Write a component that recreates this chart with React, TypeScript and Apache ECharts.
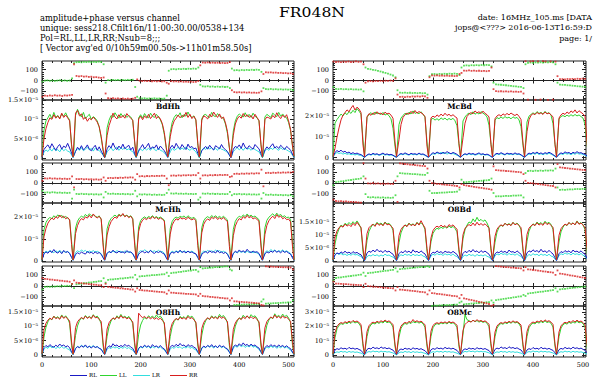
import React, { useEffect, useRef } from "react";
import * as echarts from "echarts";

// ---------- channel grid ----------
const bandStarts = [0, 64, 128, 192, 256, 320, 384, 448];
const ampOffsets = [0, 4, 8, 12, 16, 20, 24, 28, 32, 36, 40, 44, 48, 52, 56, 60, 63];
const phaseOffsets = [1, 6, 11, 16, 21, 26, 31, 36, 41, 46, 51, 56, 61];
const ampChannels = bandStarts.flatMap((s) => ampOffsets.map((o) => s + o));
const phaseChannels = bandStarts.flatMap((s) => phaseOffsets.map((o) => s + o));
const xTickLabels = [0, 100, 200, 300, 400, 500];
const phaseTickLabels = [-100, 0, 100];
const polNames = ["RL", "LL", "LR", "RR"];

// ---------- phase (degrees) ----------
const phRR_BdHh = [
  -150, -139, -142, -138, -141, -136, -140, -138, -143, -137, -139, -136, -132,
  150, 42, 39, 41, 36, 38, 33, 35, 30, 31, 27, 24, 28,
  -120, -164, -167, -163, -168, -165, -169, -166, -170, -167, -171, -168, -160,
  10, -2, -5, -3, -6, -4, -7, -5, -8, -6, -9, -7, -20,
  -30, -6, -9, -7, -11, -8, -12, -10, -13, -11, -14, -12, -5,
  140, 166, 164, 167, 163, 165, 162, 164, 161, 163, 160, 162, 170,
  -90, -107, -110, -108, -111, -109, -112, -110, -113, -111, -114, -112, -100,
  60, 76, 74, 75, 72, 73, 70, 71, 68, 69, 66, 67, 62,
];
const phLL_BdHh = [
  -10, -2, 1, -3, 0, -4, -1, 2, -2, 1, -3, 0, 20,
  160, 169, 171, 168, 172, 170, 173, 169, 172, 170, 174, 171, 150,
  -20, 4, 2, 5, 3, 6, 2, 5, 3, 6, 4, 7, -60,
  -150, -164, -166, -163, -167, -165, -168, -164, -167, -166, -169, -167, -140,
  90, 104, 106, 103, 107, 105, 108, 106, 109, 107, 110, 108, 120,
  -40, -54, -56, -53, -57, -55, -58, -56, -59, -57, -60, -58, -70,
  110, 94, 96, 93, 97, 95, 98, 96, 99, 97, 100, 98, 80,
  -70, -79, -81, -78, -82, -80, -83, -81, -84, -82, -85, -83, -90,
];
const phRR_McBd = [
  175, 171, 173, 170, 174, 172, 175, 171, 173, 176, 172, 174, 150,
  -20, -7, -5, -8, -4, -6, -3, -5, -2, -4, -1, -3, 20,
  -130, -152, -150, -153, -149, -151, -147, -149, -146, -148, -144, -146, -160,
  30, 47, 45, 48, 44, 46, 43, 45, 42, 44, 41, 43, 60,
  70, 92, 90, 93, 89, 91, 88, 90, 87, 89, 86, 88, 120,
  -80, -98, -101, -99, -102, -100, -103, -101, -104, -102, -105, -103, -120,
  178, -177, 176, 179, -178, 177, -176, 178, 175, -179, 176, -177, 174,
  40, 12, 13, 11, 14, 12, 15, 13, 16, 14, 17, 15, 25,
];
const phLL_McBd = [
  -60, -78, -80, -77, -81, -79, -82, -80, -83, -81, -84, -82, -100,
  120, 108, 104, 99, 95, 89, 83, 76, 70, 63, 55, 46, 30,
  -90, -112, -114, -111, -115, -113, -116, -114, -117, -115, -118, -116, -130,
  40, 58, 60, 57, 61, 59, 62, 60, 63, 61, 64, 62, 50,
  120, 138, 140, 137, 141, 139, 142, 140, 143, 141, 144, 142, 130,
  -20, -35, -38, -39, -42, -44, -47, -49, -53, -54, -58, -59, -70,
  150, 164, 166, 163, 167, 165, 168, 166, 169, 167, 170, 168, 150,
  -20, -38, -40, -41, -44, -45, -48, -50, -53, -54, -57, -58, -60,
];
const phRR_McHh = [
  20, 42, 40, 43, 39, 41, 38, 40, 37, 39, 36, 38, 60,
  -40, 36, 34, 37, 33, 35, 32, 34, 31, 33, 30, 32, 50,
  20, 44, 46, 43, 47, 45, 48, 46, 50, 48, 51, 49, 30,
  80, 60, 62, 59, 63, 61, 64, 62, 65, 63, 66, 64, 40,
  -20, 66, 68, 65, 69, 67, 70, 68, 71, 69, 72, 70, 90,
  40, 68, 70, 67, 71, 69, 72, 70, 73, 71, 74, 72, 55,
  60, 82, 84, 81, 85, 83, 86, 84, 87, 85, 88, 86, 120,
  -30, 90, 92, 89, 93, 91, 94, 92, 95, 93, 96, 94, 100,
];
const phLL_McHh = [
  -70, -86, -84, -87, -83, -85, -88, -86, -89, -87, -90, -88, -140,
  -60, -98, -100, -97, -101, -99, -102, -100, -103, -101, -104, -102, -130,
  -80, -96, -98, -95, -99, -97, -100, -98, -101, -99, -102, -100, -70,
  -120, -102, -104, -101, -105, -103, -106, -104, -107, -105, -108, -106, -90,
  -60, -94, -96, -93, -97, -95, -98, -96, -99, -97, -100, -98, -150,
  -130, -95, -97, -94, -98, -96, -99, -97, -100, -98, -101, -99, -80,
  -110, -99, -101, -98, -102, -100, -103, -101, -104, -102, -105, -103, -140,
  -90, -105, -107, -104, -108, -106, -109, -107, -110, -108, -111, -109, -120,
];
const phRR_O8Bd = [
  -150, -162, -165, -164, -167, -166, -169, -170, -172, -173, -175, -176, 178,
  40, -3, -5, -2, -6, -4, -7, -5, -8, -6, -9, -7, 20,
  -170, 176, 174, 171, 169, 166, 164, 161, 159, 156, 154, 151, 130,
  20, -2, -4, -7, -9, -12, -15, -17, -19, -22, -25, -27, -40,
  -10, -20, -23, -27, -30, -34, -38, -41, -44, -48, -51, -55, -60,
  150, 116, 114, 112, 111, 108, 107, 104, 103, 100, 99, 96, 80,
  20, 2, -1, -3, -7, -9, -13, -15, -19, -21, -25, -27, -40,
  170, 140, 138, 135, 133, 130, 128, 125, 123, 120, 118, 115, 100,
];
const phLL_O8Bd = [
  -20, 8, 11, 15, 17, 21, 25, 27, 31, 35, 37, 41, 60,
  -100, -128, -130, -127, -131, -129, -132, -130, -133, -131, -134, -132, -110,
  60, 88, 87, 85, 84, 82, 80, 79, 78, 76, 74, 73, 90,
  -70, -92, -90, -90, -88, -86, -86, -84, -82, -82, -80, -78, -60,
  30, 6, 8, 11, 12, 15, 16, 19, 20, 23, 24, 27, 40,
  -90, -121, -119, -120, -118, -116, -117, -115, -113, -114, -112, -111, -130,
  90, 108, 110, 107, 111, 109, 112, 110, 113, 111, 114, 112, 130,
  -40, -62, -60, -61, -59, -57, -58, -56, -54, -55, -53, -52, -30,
];
const phRR_O8Hh = [
  70, 64, 62, 58, 57, 53, 52, 48, 47, 43, 42, 38, 20,
  50, 30, 27, 26, 22, 21, 17, 16, 12, 11, 7, 6, -10,
  20, -8, -11, -12, -16, -17, -21, -22, -26, -27, -31, -32, -50,
  -20, -36, -38, -41, -42, -45, -46, -49, -50, -53, -54, -57, -70,
  -40, -60, -61, -64, -65, -67, -68, -70, -71, -73, -74, -76, -90,
  -70, -90, -93, -94, -98, -99, -102, -103, -107, -108, -111, -112, -130,
  -110, -138, -139, -142, -143, -146, -146, -149, -150, -153, -154, -156, -170,
  -175, 177, 175, 175, 173, 172, 172, 170, 169, 169, 167, 166, 150,
];
const phLL_O8Hh = [
  -30, -8, -6, -7, -4, -5, -2, -3, 0, -1, 2, 1, 20,
  -20, 15, 19, 20, 25, 26, 31, 32, 37, 38, 43, 44, 70,
  30, 56, 59, 60, 63, 64, 68, 68, 72, 73, 77, 77, 100,
  60, 86, 89, 89, 93, 94, 97, 98, 101, 102, 105, 106, 120,
  90, 116, 120, 121, 126, 127, 132, 133, 138, 139, 144, 145, 130,
  170, 158, 161, 162, 165, 166, 169, 170, 172, 173, 176, 177, 150,
  140, -171, -170, -169, -168, -167, -166, -166, -164, -164, -162, -161, -140,
  -120, -159, -157, -157, -155, -154, -153, -152, -150, -150, -148, -147, -130,
];
const phRR_O8Mc = [
  40, 22, 21, 19, 18, 16, 15, 13, 12, 10, 9, 7, -10,
  20, -2, -3, -6, -7, -10, -11, -14, -15, -18, -19, -22, -40,
  -10, -32, -34, -37, -39, -42, -44, -47, -49, -52, -54, -57, -75,
  -40, -64, -66, -70, -72, -76, -78, -82, -84, -88, -90, -94, -110,
  -80, -112, -116, -122, -126, -132, -136, -142, -146, -152, -156, -162, -178,
  -170, 178, 177, 174, 173, 170, 169, 166, 165, 162, 161, 158, 140,
  170, 150, 148, 144, 142, 138, 136, 132, 130, 126, 124, 120, 100,
  140, 112, 109, 104, 101, 96, 93, 88, 85, 80, 77, 72, 60,
];
const phLL_O8Mc = [
  50, 72, 76, 78, 82, 84, 88, 90, 94, 96, 100, 102, 120,
  90, 115, 119, 121, 125, 127, 131, 133, 137, 139, 143, 145, 160,
  130, 152, 155, 156, 159, 160, 163, 165, 168, 169, 172, 173, 178,
  170, -178, -176, -176, -174, -174, -172, -172, -170, -170, -168, -168, -150,
  -140, -165, -162, -161, -158, -157, -154, -153, -150, -149, -146, -145, -130,
  -150, -128, -123, -121, -116, -114, -109, -107, -102, -100, -95, -93, -80,
  -90, -68, -64, -62, -58, -56, -52, -50, -46, -44, -40, -38, -20,
  -50, -30, -27, -25, -22, -20, -17, -15, -12, -10, -7, -5, 10,
];

// ---------- amplitude (units of 1e-6) ----------
const ampRR_BdHh = [
  0.3, 5.0, 7.6, 9.2, 10.4, 10.0, 11.2, 10.3, 10.9, 10.1, 11.6, 10.5, 11.1, 10.4, 9.6, 3.5, 0.3,
  0.4, 11.6, 12.3, 10.9, 11.4, 10.0, 10.6, 9.5, 10.3, 9.9, 10.6, 10.0, 9.3, 8.1, 5.6, 2.1, 0.2,
  0.3, 5.8, 8.4, 9.9, 11.6, 10.6, 10.1, 11.2, 10.4, 11.0, 10.3, 11.5, 10.8, 10.3, 9.8, 4.2, 0.4,
  0.5, 10.1, 10.8, 9.9, 10.9, 10.3, 11.3, 10.2, 10.9, 11.6, 10.2, 10.8, 10.1, 8.9, 6.6, 2.8, 0.3,
  0.2, 5.5, 8.1, 9.6, 10.3, 11.1, 10.4, 11.0, 10.7, 11.8, 10.5, 11.3, 10.2, 10.8, 9.9, 3.8, 0.3,
  0.4, 9.8, 10.9, 10.6, 10.1, 11.3, 10.6, 11.9, 11.1, 10.5, 11.4, 10.2, 10.6, 9.1, 6.9, 2.7, 0.2,
  0.3, 5.9, 8.8, 10.1, 10.8, 10.3, 11.5, 10.7, 11.2, 10.5, 11.0, 10.1, 11.3, 10.5, 9.7, 3.6, 0.3,
  0.4, 9.9, 10.6, 10.4, 10.1, 11.0, 10.4, 11.7, 10.8, 10.2, 11.1, 10.5, 11.2, 9.6, 7.4, 3.1, 0.5,
];
const ampLL_BdHh = [
  0.5, 7.2, 9.6, 10.4, 11.3, 10.2, 11.8, 10.5, 11.0, 10.3, 11.4, 10.8, 11.7, 10.6, 9.9, 3.0, 0.3,
  0.5, 11.0, 12.6, 11.4, 10.6, 11.8, 10.2, 10.8, 11.3, 10.0, 10.7, 10.3, 9.6, 8.0, 5.2, 1.8, 0.2,
  0.4, 7.8, 9.8, 11.0, 10.5, 11.7, 10.9, 10.3, 11.5, 10.7, 11.2, 10.5, 11.0, 10.6, 9.7, 3.9, 0.3,
  0.6, 10.4, 11.2, 10.3, 11.5, 10.7, 10.4, 11.6, 10.8, 10.5, 11.3, 10.6, 9.9, 8.6, 6.1, 2.4, 0.4,
  0.3, 6.6, 9.2, 10.5, 11.2, 10.8, 11.7, 10.4, 11.3, 10.8, 11.9, 10.9, 10.5, 10.9, 9.8, 3.3, 0.2,
  0.5, 10.2, 11.1, 11.3, 10.7, 10.5, 11.8, 10.9, 10.7, 11.5, 10.8, 10.6, 10.2, 8.8, 6.4, 2.5, 0.3,
  0.4, 7.0, 9.6, 10.8, 11.4, 10.9, 10.6, 11.7, 10.7, 11.3, 10.5, 11.6, 10.8, 10.4, 9.6, 3.4, 0.2,
  0.5, 10.6, 11.3, 10.9, 10.5, 11.6, 11.1, 10.7, 11.8, 10.8, 11.4, 10.7, 10.4, 9.2, 7.1, 3.0, 0.4,
];
const ampRL_BdHh = [
  0.3, 2.2, 2.9, 3.4, 2.5, 3.7, 2.8, 2.0, 3.0, 3.5, 2.3, 3.1, 2.7, 3.8, 2.6, 1.3, 0.2,
  0.2, 1.7, 2.8, 2.2, 3.2, 2.1, 2.6, 3.4, 2.3, 1.9, 2.7, 3.3, 2.0, 2.9, 1.8, 0.9, 0.1,
  0.3, 2.4, 3.2, 2.6, 3.9, 2.7, 2.2, 3.1, 2.5, 3.6, 2.4, 2.9, 3.3, 2.1, 2.8, 1.1, 0.2,
  0.2, 2.0, 2.7, 3.5, 2.4, 3.0, 3.8, 2.3, 2.9, 2.6, 3.4, 2.2, 3.1, 2.5, 1.9, 1.0, 0.2,
  0.3, 2.6, 3.3, 2.5, 3.8, 2.9, 2.4, 3.5, 2.8, 2.2, 3.6, 2.7, 3.0, 2.4, 2.6, 1.2, 0.2,
  0.2, 1.9, 2.5, 3.0, 2.3, 3.3, 2.6, 2.1, 3.2, 2.8, 2.4, 3.5, 2.6, 2.2, 1.7, 0.8, 0.1,
  0.3, 2.3, 3.0, 2.7, 3.4, 2.5, 3.9, 2.8, 2.4, 3.2, 2.7, 2.3, 3.5, 2.9, 2.4, 1.1, 0.2,
  0.2, 2.1, 2.9, 2.4, 3.1, 3.7, 2.6, 3.0, 2.5, 3.3, 2.8, 2.2, 3.0, 2.6, 2.0, 1.0, 0.2,
];
const ampLR_BdHh = [
  0.2, 1.5, 2.1, 1.7, 2.4, 1.8, 2.6, 1.9, 2.2, 1.6, 2.5, 1.9, 2.3, 1.8, 1.6, 0.8, 0.1,
  0.2, 1.8, 2.4, 2.0, 2.7, 1.9, 2.3, 2.8, 2.1, 2.5, 1.8, 2.6, 2.2, 1.9, 1.4, 0.7, 0.1,
  0.2, 1.6, 2.2, 2.7, 1.9, 2.4, 2.9, 2.0, 2.6, 2.2, 2.8, 2.1, 2.4, 1.9, 1.7, 0.8, 0.1,
  0.2, 1.7, 2.3, 1.9, 2.6, 2.1, 2.5, 2.0, 2.7, 2.2, 1.9, 2.6, 2.0, 1.8, 1.4, 0.7, 0.1,
  0.2, 1.6, 2.5, 2.0, 2.3, 2.8, 2.1, 2.6, 2.2, 2.9, 2.3, 2.0, 2.5, 2.1, 1.6, 0.8, 0.1,
  0.2, 1.9, 2.6, 2.2, 2.9, 2.3, 2.7, 2.1, 2.5, 2.0, 2.8, 2.3, 2.1, 1.8, 1.5, 0.7, 0.1,
  0.2, 1.7, 2.2, 2.8, 2.1, 2.6, 2.0, 2.7, 2.3, 2.5, 2.0, 2.6, 2.2, 1.9, 1.6, 0.8, 0.1,
  0.2, 1.8, 2.4, 2.0, 2.6, 2.2, 2.9, 2.3, 2.0, 2.7, 2.2, 2.5, 2.1, 1.8, 1.5, 0.7, 0.1,
];

const ampRR_McBd = [
  0.5, 4.5, 9.8, 14.2, 18.0, 20.3, 21.5, 22.8, 21.9, 23.6, 24.9, 22.7, 24.1, 23.2, 21.5, 6.0, 0.5,
  0.6, 19.5, 21.0, 20.2, 21.4, 20.6, 21.9, 20.8, 21.3, 20.4, 21.7, 20.9, 21.2, 20.3, 18.8, 7.5, 0.6,
  0.5, 8.6, 15.8, 19.2, 20.5, 21.3, 20.7, 22.1, 21.0, 22.5, 21.2, 22.0, 21.4, 20.8, 19.6, 5.5, 0.4,
  0.6, 19.0, 19.8, 19.2, 20.4, 19.6, 20.8, 19.9, 21.2, 20.1, 20.7, 19.8, 20.5, 19.6, 18.9, 6.8, 0.5,
  0.5, 9.5, 16.4, 19.6, 20.8, 21.5, 20.9, 22.3, 21.4, 21.9, 21.0, 22.2, 21.1, 20.5, 19.4, 6.2, 0.4,
  0.6, 18.6, 19.9, 20.5, 19.8, 20.9, 20.2, 21.1, 20.4, 21.3, 20.6, 20.1, 20.8, 19.7, 18.2, 7.0, 0.5,
  0.5, 12.4, 18.1, 20.2, 21.0, 20.5, 21.6, 20.8, 21.4, 20.6, 21.8, 20.9, 21.3, 20.4, 19.5, 6.5, 0.4,
  0.6, 18.9, 20.4, 21.2, 20.6, 21.8, 21.0, 22.3, 21.5, 22.8, 21.3, 22.4, 21.6, 20.9, 19.8, 7.2, 0.6,
];
const ampLL_McBd = [
  0.5, 16.5, 18.2, 19.5, 20.8, 19.9, 21.4, 20.5, 22.0, 21.1, 22.6, 21.5, 23.4, 22.2, 20.8, 8.5, 0.5,
  0.6, 19.2, 20.6, 21.5, 20.4, 21.8, 20.9, 21.3, 20.5, 21.6, 20.3, 20.9, 20.0, 18.5, 14.0, 5.5, 0.5,
  0.5, 15.8, 18.9, 20.1, 21.2, 20.4, 21.7, 20.8, 22.3, 21.1, 21.6, 20.9, 21.9, 20.7, 19.3, 7.5, 0.4,
  0.6, 18.2, 18.8, 17.9, 18.6, 17.8, 19.0, 18.2, 18.9, 17.9, 18.7, 18.1, 18.8, 17.6, 15.2, 6.0, 0.5,
  0.5, 17.5, 19.4, 20.6, 21.3, 20.5, 21.9, 20.7, 21.5, 20.8, 22.0, 21.2, 20.6, 19.4, 15.5, 6.5, 0.4,
  0.6, 17.9, 19.1, 18.6, 19.4, 18.7, 19.6, 18.9, 19.3, 18.5, 19.5, 18.8, 19.2, 18.0, 14.8, 5.8, 0.5,
  0.5, 17.0, 19.8, 20.6, 21.4, 20.7, 22.0, 21.1, 21.6, 20.8, 22.1, 21.0, 21.5, 20.3, 16.2, 6.3, 0.4,
  0.6, 18.4, 19.6, 20.1, 19.5, 20.3, 19.7, 20.5, 19.8, 20.6, 19.9, 20.4, 19.6, 18.9, 15.8, 6.6, 0.6,
];
const ampRL_McBd = [
  0.3, 2.5, 3.4, 2.8, 3.6, 2.6, 3.1, 2.2, 2.7, 1.9, 2.4, 1.8, 2.2, 1.7, 1.5, 0.8, 0.2,
  0.2, 1.3, 1.8, 1.4, 2.1, 1.6, 1.9, 1.3, 1.7, 2.2, 1.5, 1.8, 1.4, 1.6, 1.2, 0.6, 0.2,
  0.2, 1.5, 2.0, 1.6, 2.3, 1.8, 1.4, 2.1, 1.7, 1.9, 1.5, 2.2, 1.6, 1.8, 1.3, 0.7, 0.2,
  0.2, 1.6, 2.4, 1.9, 2.7, 2.2, 1.8, 2.6, 2.0, 2.9, 2.3, 1.9, 2.5, 2.1, 1.6, 0.8, 0.2,
  0.2, 1.4, 1.9, 1.5, 2.2, 1.7, 2.0, 1.5, 1.8, 2.3, 1.6, 1.9, 1.4, 1.7, 1.3, 0.6, 0.2,
  0.2, 1.6, 2.1, 1.7, 2.4, 1.9, 1.5, 2.2, 1.8, 2.0, 1.6, 2.3, 1.7, 1.9, 1.4, 0.7, 0.2,
  0.2, 1.5, 2.2, 1.8, 2.5, 2.0, 2.7, 1.9, 2.3, 1.7, 2.4, 2.0, 2.6, 2.1, 1.5, 0.8, 0.2,
  0.2, 1.7, 2.3, 1.9, 2.8, 2.2, 2.5, 1.8, 2.6, 2.1, 2.9, 2.2, 2.4, 1.9, 1.6, 0.8, 0.2,
];
const ampLR_McBd = [
  0.2, 1.8, 2.5, 2.0, 2.3, 1.7, 2.1, 1.6, 1.9, 1.4, 1.7, 1.3, 1.6, 1.2, 1.1, 0.5, 0.1,
  0.2, 1.1, 1.5, 1.2, 1.7, 1.3, 1.6, 1.1, 1.4, 1.8, 1.2, 1.5, 1.1, 1.3, 1.0, 0.5, 0.1,
  0.2, 1.3, 1.7, 1.4, 1.9, 1.5, 1.2, 1.8, 1.4, 1.6, 1.3, 1.9, 1.4, 1.5, 1.1, 0.5, 0.1,
  0.2, 1.4, 1.9, 1.6, 2.3, 1.8, 2.6, 1.9, 2.4, 1.7, 2.2, 1.8, 2.0, 1.6, 1.2, 0.6, 0.1,
  0.2, 1.2, 1.6, 1.3, 1.8, 1.4, 1.7, 1.2, 1.5, 1.9, 1.3, 1.6, 1.2, 1.4, 1.1, 0.5, 0.1,
  0.2, 1.3, 1.8, 1.4, 2.0, 1.6, 1.3, 1.9, 1.5, 1.7, 1.4, 1.9, 1.5, 1.6, 1.2, 0.5, 0.1,
  0.2, 1.2, 1.7, 1.5, 2.1, 1.6, 2.2, 1.5, 1.9, 1.4, 2.0, 1.6, 2.1, 1.7, 1.2, 0.6, 0.1,
  0.2, 1.4, 1.9, 1.5, 2.2, 1.7, 2.0, 1.4, 2.1, 1.6, 2.3, 1.7, 1.9, 1.5, 1.2, 0.6, 0.1,
];

const ampRR_McHh = [
  0.5, 11.0, 14.8, 17.2, 18.6, 19.5, 18.8, 20.2, 19.4, 20.9, 19.7, 20.4, 19.2, 19.8, 18.7, 7.5, 0.5,
  0.6, 12.5, 16.1, 18.2, 19.3, 18.7, 20.1, 19.5, 20.8, 19.6, 21.4, 20.2, 19.6, 20.3, 19.1, 6.8, 0.5,
  0.5, 11.8, 15.6, 17.9, 19.1, 20.0, 19.4, 21.0, 20.3, 21.6, 20.1, 20.8, 19.7, 20.4, 19.0, 7.2, 0.4,
  0.6, 13.5, 17.0, 18.6, 19.4, 18.8, 19.7, 19.1, 20.3, 19.3, 19.9, 18.9, 19.6, 19.0, 18.2, 6.9, 0.5,
  0.5, 12.2, 16.4, 18.1, 19.2, 18.6, 19.8, 19.1, 19.6, 18.8, 19.9, 19.2, 18.7, 19.3, 18.4, 7.0, 0.4,
  0.6, 12.8, 16.7, 18.4, 19.1, 18.5, 19.9, 19.2, 20.1, 18.9, 19.6, 19.0, 19.8, 18.7, 18.0, 6.6, 0.5,
  0.5, 11.5, 15.9, 18.0, 19.3, 18.7, 20.2, 19.4, 20.8, 19.6, 20.3, 19.1, 19.7, 18.9, 18.1, 6.8, 0.4,
  0.6, 12.0, 16.2, 18.3, 19.5, 20.4, 19.3, 21.1, 19.9, 20.5, 19.2, 19.8, 18.8, 19.1, 17.8, 6.4, 0.5,
];
const ampLL_McHh = [
  0.5, 14.2, 17.5, 19.0, 19.8, 19.2, 20.6, 19.7, 21.0, 20.2, 20.8, 19.6, 20.3, 19.5, 18.8, 9.0, 0.5,
  0.6, 15.0, 18.1, 19.6, 20.4, 19.8, 21.2, 20.3, 21.5, 20.6, 21.0, 20.4, 19.9, 20.5, 19.0, 8.5, 0.5,
  0.5, 14.6, 17.8, 19.3, 20.2, 20.9, 20.1, 21.3, 20.6, 21.1, 20.4, 20.9, 20.0, 20.6, 19.3, 8.8, 0.4,
  0.6, 15.5, 18.4, 19.5, 20.1, 19.4, 20.3, 19.8, 20.6, 19.7, 20.2, 19.5, 20.0, 19.4, 18.6, 9.2, 0.5,
  0.5, 14.8, 18.0, 19.4, 20.0, 19.5, 20.4, 19.9, 20.5, 19.6, 20.6, 19.8, 19.4, 19.9, 18.9, 8.7, 0.4,
  0.6, 15.2, 18.3, 19.6, 20.2, 19.5, 20.7, 19.9, 20.6, 19.7, 20.3, 19.6, 20.4, 19.5, 18.7, 8.9, 0.5,
  0.5, 14.4, 18.1, 19.5, 20.4, 19.8, 21.0, 20.2, 21.4, 20.3, 20.9, 20.0, 20.5, 19.6, 18.8, 8.6, 0.4,
  0.6, 15.1, 18.5, 19.9, 20.7, 21.5, 20.4, 21.8, 20.6, 21.2, 20.1, 20.6, 19.7, 20.0, 18.9, 9.1, 0.5,
];
const ampRL_McHh = [
  0.4, 3.2, 4.1, 3.5, 4.6, 3.8, 5.2, 4.0, 3.6, 4.4, 3.3, 4.8, 3.9, 4.2, 3.4, 1.6, 0.3,
  0.3, 2.9, 3.7, 3.2, 4.0, 3.5, 3.1, 4.3, 3.6, 3.9, 3.3, 4.1, 3.4, 3.8, 3.0, 1.4, 0.3,
  0.4, 3.4, 4.3, 3.7, 4.9, 4.0, 3.6, 4.5, 3.8, 4.2, 3.5, 4.7, 3.9, 4.1, 3.3, 1.5, 0.3,
  0.3, 3.1, 3.9, 4.5, 3.6, 4.2, 3.7, 4.8, 3.9, 3.4, 4.3, 3.8, 4.4, 3.6, 3.1, 1.4, 0.3,
  0.4, 3.3, 4.0, 3.5, 4.4, 3.7, 4.9, 3.9, 4.3, 3.6, 4.5, 3.8, 4.1, 3.5, 3.2, 1.5, 0.3,
  0.3, 3.0, 3.8, 4.3, 3.5, 4.6, 3.9, 4.2, 3.6, 4.8, 3.7, 4.1, 3.4, 3.9, 3.0, 1.3, 0.3,
  0.4, 3.5, 4.4, 3.8, 5.0, 4.1, 4.6, 3.9, 5.3, 4.2, 3.8, 4.5, 3.9, 4.2, 3.4, 1.6, 0.3,
  0.3, 3.2, 4.1, 3.6, 4.5, 3.9, 4.8, 4.0, 4.4, 3.7, 4.6, 3.9, 4.3, 3.6, 3.1, 1.4, 0.3,
];
const ampLR_McHh = [
  0.3, 3.6, 4.5, 3.9, 4.8, 4.2, 3.7, 4.6, 4.0, 4.9, 3.8, 4.3, 3.9, 4.4, 3.5, 1.6, 0.3,
  0.3, 3.8, 4.6, 4.1, 5.0, 4.3, 4.8, 3.9, 4.5, 4.1, 4.7, 4.0, 4.4, 3.9, 3.3, 1.5, 0.3,
  0.3, 3.5, 4.2, 3.8, 4.5, 3.9, 4.7, 4.1, 4.4, 3.7, 4.6, 4.0, 4.3, 3.8, 3.3, 1.5, 0.3,
  0.3, 3.9, 4.7, 4.2, 5.1, 4.4, 4.0, 4.8, 4.2, 4.6, 4.0, 4.9, 4.1, 4.3, 3.5, 1.6, 0.3,
  0.3, 3.6, 4.4, 3.9, 4.6, 4.1, 4.5, 3.8, 4.7, 4.0, 4.3, 3.9, 4.5, 3.8, 3.2, 1.5, 0.3,
  0.3, 3.7, 4.5, 4.0, 4.8, 4.2, 4.6, 4.1, 4.9, 4.3, 4.7, 4.0, 4.4, 3.9, 3.4, 1.6, 0.3,
  0.3, 3.4, 4.1, 3.7, 4.4, 3.9, 4.3, 3.6, 4.5, 3.8, 4.2, 3.7, 4.1, 3.6, 3.1, 1.4, 0.3,
  0.3, 3.8, 4.6, 4.2, 5.2, 4.4, 4.9, 4.1, 4.7, 4.3, 5.0, 4.2, 4.6, 4.0, 3.4, 1.6, 0.3,
];

const ampRR_O8Bd = [
  0.4, 9.2, 11.5, 12.8, 13.5, 13.0, 14.2, 13.4, 14.0, 13.2, 14.5, 13.6, 14.9, 13.8, 12.9, 5.0, 0.4,
  0.4, 10.5, 12.8, 13.6, 14.1, 13.3, 14.6, 13.7, 14.3, 13.5, 14.8, 13.9, 14.2, 13.4, 12.6, 4.6, 0.4,
  0.4, 9.8, 12.1, 13.2, 13.8, 13.2, 14.4, 13.6, 14.1, 13.5, 14.7, 13.8, 15.5, 14.0, 12.7, 4.8, 0.4,
  0.4, 8.9, 11.7, 12.8, 13.4, 12.9, 13.8, 13.1, 13.6, 12.8, 14.0, 13.3, 13.9, 13.0, 12.2, 4.5, 0.4,
  0.4, 10.1, 12.5, 13.4, 14.0, 13.5, 14.6, 13.6, 14.9, 13.8, 14.4, 13.7, 14.3, 13.5, 12.6, 4.9, 0.4,
  0.4, 9.5, 12.2, 13.3, 13.9, 13.4, 14.5, 13.7, 14.2, 13.6, 14.8, 13.9, 14.4, 13.6, 12.8, 4.7, 0.4,
  0.4, 10.2, 12.6, 13.5, 14.1, 13.6, 14.7, 13.8, 14.4, 13.7, 14.9, 14.0, 14.5, 13.7, 12.9, 4.8, 0.4,
  0.4, 9.9, 12.4, 13.4, 14.2, 13.7, 14.8, 14.0, 14.6, 13.9, 15.2, 14.1, 14.6, 13.8, 12.8, 4.9, 0.4,
];
const ampLL_O8Bd = [
  0.4, 6.5, 10.2, 12.3, 13.8, 13.2, 14.5, 13.9, 14.8, 14.0, 15.1, 14.3, 15.4, 14.2, 12.5, 3.5, 0.4,
  0.4, 7.8, 11.4, 13.0, 14.2, 13.6, 14.9, 14.1, 14.6, 13.8, 15.0, 14.2, 14.5, 13.6, 11.8, 3.8, 0.4,
  0.4, 7.0, 10.8, 12.7, 13.9, 13.4, 14.6, 13.8, 14.3, 13.6, 14.9, 14.1, 14.7, 13.9, 12.1, 3.6, 0.4,
  0.4, 7.4, 10.6, 11.9, 12.6, 12.2, 13.0, 12.5, 13.2, 12.6, 13.4, 12.8, 13.3, 12.5, 11.2, 3.4, 0.4,
  0.4, 8.5, 12.0, 13.8, 15.0, 14.5, 16.2, 15.1, 16.8, 15.4, 16.0, 15.2, 15.8, 14.6, 12.8, 3.9, 0.4,
  0.4, 7.2, 11.1, 12.9, 13.8, 13.3, 14.5, 13.9, 14.4, 13.7, 14.9, 14.0, 14.6, 13.8, 12.0, 3.7, 0.4,
  0.4, 7.6, 11.5, 13.2, 14.3, 13.7, 15.0, 14.2, 14.8, 14.0, 15.3, 14.4, 14.9, 14.0, 12.2, 3.8, 0.4,
  0.4, 7.3, 11.2, 13.0, 14.1, 13.6, 14.8, 14.0, 14.7, 13.9, 15.4, 14.3, 14.8, 13.9, 12.1, 3.7, 0.4,
];
const ampRL_O8Bd = [
  0.3, 2.4, 3.1, 2.7, 3.5, 2.9, 3.8, 3.0, 3.4, 2.8, 3.6, 3.0, 3.3, 2.7, 2.4, 1.1, 0.2,
  0.3, 3.0, 3.8, 3.3, 4.2, 3.5, 4.5, 3.6, 3.9, 3.2, 4.1, 3.4, 3.8, 3.1, 2.6, 1.2, 0.2,
  0.3, 2.8, 3.6, 3.1, 4.0, 3.3, 3.8, 3.0, 4.3, 3.4, 3.7, 3.1, 3.9, 3.2, 2.7, 1.2, 0.2,
  0.3, 2.6, 3.4, 3.0, 3.9, 3.2, 3.6, 2.9, 3.8, 3.3, 3.5, 3.0, 3.7, 3.1, 2.5, 1.1, 0.2,
  0.3, 2.9, 3.7, 3.2, 4.1, 3.4, 4.4, 3.5, 3.9, 3.1, 4.0, 3.3, 3.8, 3.2, 2.6, 1.2, 0.2,
  0.3, 2.7, 3.5, 3.1, 3.9, 3.3, 3.7, 3.0, 4.2, 3.4, 3.6, 3.1, 3.9, 3.2, 2.6, 1.1, 0.2,
  0.3, 3.1, 3.9, 3.4, 4.3, 3.6, 4.0, 3.3, 4.5, 3.5, 3.9, 3.2, 4.1, 3.3, 2.7, 1.2, 0.2,
  0.3, 2.8, 3.6, 3.2, 4.0, 3.4, 3.9, 3.1, 4.2, 3.5, 3.8, 3.2, 3.9, 3.1, 2.6, 1.1, 0.2,
];
const ampLR_O8Bd = [
  0.2, 2.2, 3.0, 2.5, 2.9, 2.3, 2.7, 2.1, 2.6, 2.2, 2.8, 2.3, 2.5, 2.0, 1.8, 0.8, 0.1,
  0.2, 1.6, 2.2, 1.9, 2.5, 2.0, 2.4, 1.8, 2.3, 1.9, 2.6, 2.1, 2.3, 1.8, 1.5, 0.7, 0.1,
  0.2, 1.8, 2.4, 2.0, 2.7, 2.2, 2.5, 1.9, 2.6, 2.1, 2.4, 2.0, 2.5, 1.9, 1.6, 0.7, 0.1,
  0.2, 1.9, 2.6, 2.2, 2.9, 2.4, 2.7, 2.1, 2.8, 2.3, 2.6, 2.1, 2.7, 2.0, 1.7, 0.8, 0.1,
  0.2, 1.7, 2.3, 1.9, 2.6, 2.1, 2.4, 1.8, 2.5, 2.0, 2.3, 1.9, 2.4, 1.8, 1.5, 0.7, 0.1,
  0.2, 2.0, 2.7, 2.3, 3.0, 2.5, 2.8, 2.2, 2.9, 2.4, 2.7, 2.2, 2.8, 2.1, 1.8, 0.8, 0.1,
  0.2, 1.8, 2.5, 2.1, 2.8, 2.3, 2.6, 2.0, 2.7, 2.2, 2.5, 2.0, 2.6, 1.9, 1.6, 0.7, 0.1,
  0.2, 2.1, 2.8, 2.4, 3.1, 2.6, 2.9, 2.3, 3.0, 2.5, 2.8, 2.3, 2.9, 2.2, 1.8, 0.8, 0.1,
];

const ampRR_O8Hh = [
  0.4, 8.8, 11.0, 12.1, 12.8, 12.3, 13.4, 12.6, 13.0, 12.4, 13.6, 12.7, 13.3, 12.5, 11.8, 4.5, 0.3,
  0.4, 9.5, 11.5, 12.4, 13.0, 12.5, 13.5, 12.7, 13.2, 12.6, 13.8, 12.9, 13.1, 12.3, 11.6, 4.2, 0.3,
  0.4, 9.0, 11.2, 12.2, 12.9, 12.4, 13.3, 12.6, 13.7, 12.8, 13.2, 12.5, 13.0, 12.2, 11.5, 4.3, 0.3,
  0.4, 14.5, 13.6, 12.9, 13.4, 12.7, 13.2, 12.5, 13.1, 12.4, 12.9, 12.3, 12.8, 12.0, 11.2, 4.0, 0.3,
  0.4, 8.6, 10.9, 12.0, 12.7, 12.2, 13.1, 12.5, 13.0, 12.3, 13.4, 12.6, 13.0, 12.2, 11.4, 4.1, 0.3,
  0.4, 9.2, 11.3, 12.3, 12.9, 12.4, 13.3, 12.7, 13.1, 12.5, 13.5, 12.7, 13.2, 12.4, 11.6, 4.3, 0.3,
  0.4, 8.9, 11.1, 12.2, 12.8, 12.3, 13.2, 12.6, 13.6, 12.7, 13.3, 12.6, 13.1, 12.3, 11.5, 4.2, 0.3,
  0.4, 9.4, 11.6, 12.5, 13.2, 12.7, 13.9, 12.9, 13.4, 12.7, 13.6, 12.8, 13.2, 12.4, 11.7, 4.4, 0.3,
];
const ampLL_O8Hh = [
  0.4, 6.2, 9.6, 11.5, 12.7, 12.2, 13.5, 12.8, 13.3, 12.6, 13.9, 12.9, 13.6, 12.7, 11.0, 3.2, 0.3,
  0.4, 6.8, 10.1, 11.9, 12.9, 12.4, 13.7, 12.9, 13.4, 12.8, 14.0, 13.1, 13.5, 12.6, 10.8, 3.0, 0.3,
  0.4, 6.5, 9.9, 11.8, 12.8, 12.3, 13.6, 12.8, 14.1, 13.0, 13.5, 12.8, 13.4, 12.5, 10.9, 3.1, 0.3,
  0.4, 7.2, 10.4, 12.0, 13.0, 12.5, 13.6, 13.0, 13.5, 12.8, 13.9, 13.0, 13.5, 12.6, 10.7, 3.0, 0.3,
  0.4, 6.4, 9.8, 11.6, 12.6, 12.1, 13.4, 12.8, 13.3, 12.6, 13.8, 13.0, 13.5, 12.6, 10.9, 3.1, 0.3,
  0.4, 6.9, 10.2, 11.9, 12.8, 12.3, 13.6, 12.9, 13.4, 12.7, 14.1, 13.2, 13.7, 12.8, 11.1, 3.2, 0.3,
  0.4, 6.6, 10.0, 11.8, 12.9, 12.4, 13.8, 13.0, 13.5, 12.8, 14.0, 13.2, 13.6, 12.7, 11.0, 3.1, 0.3,
  0.4, 7.0, 10.3, 12.1, 13.1, 12.6, 14.3, 13.2, 13.8, 13.0, 14.2, 13.3, 13.8, 12.9, 11.2, 3.2, 0.3,
];
const ampRL_O8Hh = [
  0.3, 2.6, 3.3, 2.8, 3.6, 3.0, 2.7, 3.4, 2.9, 3.8, 3.1, 3.5, 2.8, 3.2, 2.5, 1.1, 0.2,
  0.3, 2.2, 2.9, 2.5, 3.2, 2.7, 3.5, 2.6, 3.0, 2.4, 3.1, 2.6, 2.9, 2.3, 2.0, 0.9, 0.2,
  0.3, 2.5, 3.2, 2.7, 3.9, 3.1, 3.5, 2.8, 3.3, 2.9, 3.7, 3.0, 3.4, 2.7, 2.3, 1.0, 0.2,
  0.3, 2.3, 3.0, 2.6, 3.4, 2.8, 3.2, 2.5, 3.6, 2.9, 3.1, 2.6, 3.3, 2.5, 2.1, 1.0, 0.2,
  0.3, 2.7, 3.4, 2.9, 3.7, 3.1, 4.0, 3.2, 3.5, 2.8, 3.6, 3.0, 3.3, 2.7, 2.3, 1.1, 0.2,
  0.3, 2.4, 3.1, 2.6, 3.3, 2.8, 3.6, 2.7, 3.2, 2.5, 3.4, 2.8, 3.1, 2.5, 2.1, 1.0, 0.2,
  0.3, 2.8, 3.5, 3.0, 3.9, 3.2, 4.2, 3.3, 3.7, 3.0, 3.8, 3.1, 3.5, 2.8, 2.4, 1.1, 0.2,
  0.3, 2.5, 3.3, 2.8, 3.6, 3.0, 3.4, 2.7, 3.5, 2.9, 3.3, 2.7, 3.2, 2.6, 2.2, 1.0, 0.2,
];
const ampLR_O8Hh = [
  0.2, 2.0, 2.7, 2.3, 3.1, 2.5, 2.9, 2.2, 2.8, 2.4, 3.0, 2.3, 2.7, 2.1, 1.8, 0.8, 0.1,
  0.2, 2.3, 3.0, 2.6, 3.4, 2.8, 3.2, 2.5, 3.1, 2.7, 3.3, 2.6, 2.9, 2.4, 2.0, 0.9, 0.1,
  0.2, 1.9, 2.6, 2.2, 2.9, 2.4, 2.8, 2.1, 2.7, 2.3, 2.9, 2.2, 2.6, 2.0, 1.7, 0.8, 0.1,
  0.2, 2.1, 2.8, 2.4, 3.2, 2.6, 3.0, 2.3, 2.9, 2.5, 3.1, 2.4, 2.8, 2.2, 1.8, 0.8, 0.1,
  0.2, 2.0, 2.7, 2.3, 3.0, 2.5, 2.9, 2.2, 2.8, 2.4, 3.0, 2.3, 2.7, 2.1, 1.8, 0.8, 0.1,
  0.2, 2.2, 2.9, 2.5, 3.3, 2.7, 3.1, 2.4, 3.0, 2.6, 3.2, 2.5, 2.9, 2.3, 1.9, 0.9, 0.1,
  0.2, 2.4, 3.1, 2.7, 3.5, 2.9, 3.3, 2.6, 3.2, 2.8, 3.4, 2.7, 3.0, 2.5, 2.0, 0.9, 0.1,
  0.2, 2.1, 2.8, 2.4, 3.1, 2.6, 3.0, 2.3, 2.9, 2.5, 3.1, 2.4, 2.8, 2.2, 1.8, 0.8, 0.1,
];

const ampRR_O8Mc = [
  0.6, 15.5, 19.8, 21.6, 22.5, 21.9, 23.1, 22.4, 23.5, 22.6, 24.0, 22.9, 23.6, 22.5, 21.2, 8.0, 0.6,
  0.6, 16.2, 20.3, 21.9, 22.8, 22.2, 23.4, 22.6, 23.8, 22.9, 24.3, 23.1, 23.7, 22.6, 21.0, 7.6, 0.6,
  0.6, 15.8, 20.0, 21.7, 22.6, 22.0, 23.3, 22.5, 24.6, 23.0, 23.8, 22.8, 23.5, 22.4, 20.9, 7.8, 0.6,
  0.6, 16.5, 20.5, 21.8, 22.4, 21.8, 22.9, 22.2, 23.0, 22.1, 23.3, 22.4, 22.9, 22.0, 20.6, 7.4, 0.6,
  0.6, 17.0, 21.2, 22.6, 23.5, 22.8, 24.1, 23.2, 24.5, 23.4, 24.0, 23.1, 23.7, 22.7, 21.3, 7.9, 0.6,
  0.6, 15.9, 20.1, 21.7, 22.5, 21.9, 23.0, 22.3, 23.4, 22.5, 23.7, 22.7, 23.2, 22.2, 20.8, 7.5, 0.6,
  0.6, 16.3, 20.4, 22.0, 22.9, 22.3, 23.6, 22.8, 24.0, 23.0, 24.4, 23.2, 23.8, 22.8, 21.2, 7.7, 0.6,
  0.6, 16.0, 20.2, 21.8, 22.7, 22.1, 23.4, 22.6, 23.9, 22.9, 24.2, 23.0, 23.6, 22.5, 20.9, 7.6, 0.6,
];
const ampLL_O8Mc = [
  0.6, 12.0, 18.2, 20.6, 21.8, 21.2, 22.5, 21.7, 22.8, 21.9, 23.3, 22.2, 22.9, 21.8, 19.5, 6.0, 0.6,
  0.6, 12.8, 18.8, 21.0, 22.1, 21.5, 22.7, 21.9, 23.1, 22.2, 23.6, 22.4, 23.0, 21.9, 19.3, 5.8, 0.6,
  0.6, 12.4, 18.5, 20.8, 21.9, 21.3, 22.6, 21.8, 23.2, 22.3, 23.1, 22.1, 22.8, 21.7, 19.2, 5.9, 0.6,
  0.6, 13.0, 18.9, 20.9, 21.8, 21.2, 22.3, 21.6, 22.5, 21.5, 22.8, 21.8, 22.4, 21.4, 19.0, 5.7, 0.6,
  0.6, 14.5, 28.0, 24.5, 23.8, 22.9, 24.2, 23.1, 23.9, 22.8, 23.5, 22.6, 23.2, 22.1, 19.6, 6.0, 0.6,
  0.6, 12.6, 18.6, 20.8, 21.9, 21.3, 22.5, 21.7, 22.9, 22.0, 23.2, 22.2, 22.7, 21.6, 19.1, 5.8, 0.6,
  0.6, 12.9, 18.9, 21.1, 22.2, 21.6, 22.9, 22.1, 23.3, 22.3, 23.7, 22.5, 23.1, 22.0, 19.4, 5.9, 0.6,
  0.6, 12.7, 18.7, 20.9, 22.0, 21.4, 22.7, 21.9, 23.0, 22.1, 23.4, 22.3, 22.9, 21.8, 19.2, 5.8, 0.6,
];
const ampRL_O8Mc = [
  0.4, 3.5, 4.4, 3.8, 5.0, 4.2, 4.7, 3.9, 5.3, 4.3, 4.8, 4.0, 4.6, 3.8, 3.2, 1.5, 0.3,
  0.4, 3.8, 4.7, 4.1, 5.5, 4.5, 5.0, 4.2, 5.6, 4.6, 5.1, 4.3, 4.9, 4.0, 3.4, 1.6, 0.3,
  0.4, 3.3, 4.2, 3.6, 4.8, 4.0, 4.5, 3.7, 5.0, 4.1, 4.6, 3.8, 4.4, 3.6, 3.0, 1.4, 0.3,
  0.4, 3.6, 4.5, 3.9, 5.1, 4.3, 4.8, 4.0, 5.3, 4.4, 4.9, 4.1, 4.7, 3.9, 3.2, 1.5, 0.3,
  0.4, 3.4, 4.3, 3.7, 4.9, 4.1, 4.6, 3.8, 5.1, 4.2, 4.7, 3.9, 4.5, 3.7, 3.1, 1.4, 0.3,
  0.4, 3.9, 4.8, 4.2, 5.6, 4.6, 5.1, 4.3, 5.7, 4.7, 5.2, 4.4, 5.0, 4.1, 3.5, 1.6, 0.3,
  0.4, 3.5, 4.4, 3.8, 5.2, 4.2, 4.7, 3.9, 5.4, 4.3, 4.8, 4.0, 4.6, 3.8, 3.2, 1.5, 0.3,
  0.4, 3.7, 4.6, 4.0, 5.3, 4.4, 4.9, 4.1, 5.5, 4.5, 5.0, 4.2, 4.8, 3.9, 3.3, 1.5, 0.3,
];
const ampLR_O8Mc = [
  0.2, 1.6, 2.2, 1.8, 2.6, 2.0, 2.4, 1.7, 2.5, 1.9, 2.3, 1.8, 2.1, 1.6, 1.3, 0.6, 0.1,
  0.2, 1.8, 2.4, 2.0, 2.8, 2.2, 2.6, 1.9, 2.7, 2.1, 2.5, 2.0, 2.3, 1.8, 1.4, 0.6, 0.1,
  0.2, 1.5, 2.1, 1.7, 2.5, 1.9, 2.3, 1.6, 2.4, 1.8, 2.2, 1.7, 2.0, 1.5, 1.2, 0.5, 0.1,
  0.2, 1.7, 2.3, 1.9, 2.7, 2.1, 2.5, 1.8, 2.6, 2.0, 2.4, 1.9, 2.2, 1.7, 1.3, 0.6, 0.1,
  0.2, 1.9, 2.5, 2.1, 2.9, 2.3, 2.7, 2.0, 2.8, 2.2, 2.6, 2.1, 2.4, 1.9, 1.5, 0.7, 0.1,
  0.2, 1.6, 2.2, 1.8, 2.6, 2.0, 2.4, 1.7, 2.5, 1.9, 2.3, 1.8, 2.1, 1.6, 1.3, 0.6, 0.1,
  0.2, 1.8, 2.4, 2.0, 2.8, 2.2, 2.6, 1.9, 2.7, 2.1, 2.5, 2.0, 2.3, 1.8, 1.4, 0.6, 0.1,
  0.2, 1.7, 2.3, 1.9, 2.7, 2.1, 2.5, 1.8, 2.6, 2.0, 2.4, 1.9, 2.2, 1.7, 1.3, 0.6, 0.1,
];

// ---------- header texts ----------
const titleText = "FR048N";
const headerLeft = [
  "amplitude+phase versus channel",
  "unique: sess218.Cfilt16n/11:00:30.00/0538+134",
  "Pol=RL,LL,LR,RR;Nsub=8;;;",
  "[ Vector avg'ed 0/10h59m00.50s->11h01m58.50s]",
];
const headerRight = ["date: 16MHz_105.ms [DATA", "jops@<???> 2016-06-13T16:59:D", "page: 1/"];

// ---------- layout / style ----------
const COL_LEFT = [42, 333];
const COL_WIDTH = [252, 253];
const COL_XMAX = [511, 506];
const ROW_PHASE_TOP = [61, 163, 266];
const ROW_PHASE_H = [39, 40, 40];
const ROW_AMP_TOP = [100, 203, 306];
const ROW_AMP_H = [60, 59, 51];
const COLORS: Record<string, string> = { RL: "#1a1ac4", LL: "#2fd42f", LR: "#33dede", RR: "#d81e1e" };
const AX = "#222";
const FONT = "DejaVu Serif";

const panels = [
  { label: "BdHh", col: 0, row: 0, rr: ampRR_BdHh, ll: ampLL_BdHh, rl: ampRL_BdHh, lr: ampLR_BdHh, pRR: phRR_BdHh, pLL: phLL_BdHh, yMin: -0.5, yMax: 15, majors: [0, 5, 10, 15], minorStep: 1 },
  { label: "McBd", col: 1, row: 0, rr: ampRR_McBd, ll: ampLL_McBd, rl: ampRL_McBd, lr: ampLR_McBd, pRR: phRR_McBd, pLL: phLL_McBd, yMin: -1.1, yMax: 27.5, majors: [0, 10, 20], minorStep: 2 },
  { label: "McHh", col: 0, row: 1, rr: ampRR_McHh, ll: ampLL_McHh, rl: ampRL_McHh, lr: ampLR_McHh, pRR: phRR_McHh, pLL: phLL_McHh, yMin: -0.5, yMax: 26.4, majors: [0, 10, 20], minorStep: 2 },
  { label: "O8Bd", col: 1, row: 1, rr: ampRR_O8Bd, ll: ampLL_O8Bd, rl: ampRL_O8Bd, lr: ampLR_O8Bd, pRR: phRR_O8Bd, pLL: phLL_O8Bd, yMin: -0.4, yMax: 22.3, majors: [0, 5, 10, 15], minorStep: 1 },
  { label: "O8Hh", col: 0, row: 2, rr: ampRR_O8Hh, ll: ampLL_O8Hh, rl: ampRL_O8Hh, lr: ampLR_O8Hh, pRR: phRR_O8Hh, pLL: phLL_O8Hh, yMin: -0.7, yMax: 17, majors: [0, 5, 10, 15], minorStep: 1 },
  { label: "O8Mc", col: 1, row: 2, rr: ampRR_O8Mc, ll: ampLL_O8Mc, rl: ampRL_O8Mc, lr: ampLR_O8Mc, pRR: phRR_O8Mc, pLL: phLL_O8Mc, yMin: -1.4, yMax: 34, majors: [0, 10, 20, 30], minorStep: 2 },
];

function ampLabel(v: number): string {
  const m: Record<number, string> = { 0: "0", 5: "5×10⁻⁶", 10: "10⁻⁵", 15: "1.5×10⁻⁵", 20: "2×10⁻⁵", 30: "3×10⁻⁵" };
  return m[v] ?? "";
}
function phaseLabel(v: number): string {
  return v < 0 ? "−" + Math.abs(v) : String(v);
}
function minorValues(lo: number, hi: number, step: number, majorStep: number): number[] {
  const out: number[] = [];
  for (let v = lo; v <= hi + 1e-9; v += step) {
    const r = Math.round(v * 1000) / 1000;
    if (Math.abs(r / majorStep - Math.round(r / majorStep)) > 1e-6) out.push(r);
  }
  return out;
}

function buildOption() {
  const grids: any[] = [];
  const xAxes: any[] = [];
  const yAxes: any[] = [];
  const series: any[] = [];
  const graphics: any[] = [];

  const labelStyle = { fontFamily: FONT, fontSize: 6.5, color: "#000" };

  const xAxis = (gi: number, xMax: number, position: string, ticks: number[], len: number, opts: any = {}) => ({
    gridIndex: gi, type: "value", min: 0, max: xMax, position,
    axisLine: { show: false, onZero: false },
    axisTick: { show: true, inside: true, length: len, customValues: ticks, lineStyle: { color: AX, width: 1 } },
    axisLabel: { show: false },
    splitLine: { show: false }, minorTick: { show: false }, minorSplitLine: { show: false },
    ...opts,
  });
  const yAxis = (gi: number, min: number, max: number, position: string, ticks: number[], len: number, opts: any = {}) => ({
    gridIndex: gi, type: "value", min, max, position,
    axisLine: { show: false, onZero: false },
    axisTick: { show: true, inside: true, length: len, customValues: ticks, lineStyle: { color: AX, width: 1 } },
    axisLabel: { show: false },
    splitLine: { show: false }, minorTick: { show: false }, minorSplitLine: { show: false },
    ...opts,
  });

  const xMinorFor = (xMax: number) => minorValues(0, xMax, 20, 100);

  panels.forEach((p) => {
    const left = COL_LEFT[p.col];
    const width = COL_WIDTH[p.col];
    const xMax = COL_XMAX[p.col];
    const xMinor = xMinorFor(xMax);
    const isBottom = p.row === 2;

    // ---- phase grid ----
    const gP = grids.length;
    grids.push({ left, top: ROW_PHASE_TOP[p.row], width, height: ROW_PHASE_H[p.row], show: true, borderColor: AX, borderWidth: 1, backgroundColor: "transparent", containLabel: false, outerBoundsMode: "none" });
    const xP = xAxes.length;
    xAxes.push(xAxis(gP, xMax, "bottom", xTickLabels, 4));
    xAxes.push(xAxis(gP, xMax, "bottom", xMinor, 2));
    xAxes.push(xAxis(gP, xMax, "top", xTickLabels, 4));
    xAxes.push(xAxis(gP, xMax, "top", xMinor, 2));
    const yP = yAxes.length;
    const phMinor = minorValues(-160, 160, 20, 100);
    yAxes.push(yAxis(gP, -180, 180, "left", phaseTickLabels, 4, {
      axisLabel: { show: true, customValues: phaseTickLabels, formatter: phaseLabel, margin: 4, ...labelStyle },
    }));
    yAxes.push(yAxis(gP, -180, 180, "left", phMinor, 2));
    yAxes.push(yAxis(gP, -180, 180, "right", phaseTickLabels, 4));
    yAxes.push(yAxis(gP, -180, 180, "right", phMinor, 2));
    // axis through zero with ticks both ways
    const zeroOpts = (show: boolean) => ({
      axisLine: { show, onZero: true, onZeroAxisIndex: yP, lineStyle: { color: AX, width: 1 } },
    });
    [true, false].forEach((inside, k) => {
      const a1: any = xAxis(gP, xMax, "bottom", xTickLabels, 3, zeroOpts(k === 0));
      a1.axisTick.inside = inside;
      xAxes.push(a1);
      const a2: any = xAxis(gP, xMax, "bottom", xMinor, 1.5, zeroOpts(false));
      a2.axisTick.inside = inside;
      xAxes.push(a2);
    });

    series.push({
      type: "scatter", name: "LL", xAxisIndex: xP, yAxisIndex: yP, symbol: "rect", symbolSize: 1.8, silent: true,
      itemStyle: { color: COLORS.LL }, data: phaseChannels.map((c, i) => [c, p.pLL[i]]),
    });
    series.push({
      type: "scatter", name: "RR", xAxisIndex: xP, yAxisIndex: yP, symbol: "rect", symbolSize: 1.8, silent: true,
      itemStyle: { color: COLORS.RR }, data: phaseChannels.map((c, i) => [c, p.pRR[i]]),
    });

    // ---- amplitude grid ----
    const gA = grids.length;
    grids.push({ left, top: ROW_AMP_TOP[p.row], width, height: ROW_AMP_H[p.row], show: true, borderColor: AX, borderWidth: 1, backgroundColor: "transparent", containLabel: false, outerBoundsMode: "none" });
    const xA = xAxes.length;
    xAxes.push(xAxis(gA, xMax, "bottom", xTickLabels, 4, isBottom ? {
      axisLabel: { show: true, customValues: xTickLabels, margin: 4, ...labelStyle },
    } : {}));
    xAxes.push(xAxis(gA, xMax, "bottom", xMinor, 2));
    xAxes.push(xAxis(gA, xMax, "top", xTickLabels, 4));
    xAxes.push(xAxis(gA, xMax, "top", xMinor, 2));
    const yA = yAxes.length;
    const majorStep = p.majors[1] - p.majors[0];
    const aMinor = minorValues(0, p.yMax, p.minorStep, majorStep);
    yAxes.push(yAxis(gA, p.yMin, p.yMax, "left", p.majors, 4, {
      axisLabel: { show: true, customValues: p.majors, formatter: ampLabel, margin: 4, ...labelStyle },
    }));
    yAxes.push(yAxis(gA, p.yMin, p.yMax, "left", aMinor, 2));
    yAxes.push(yAxis(gA, p.yMin, p.yMax, "right", p.majors, 4));
    yAxes.push(yAxis(gA, p.yMin, p.yMax, "right", aMinor, 2));

    const ampSeries: [string, number[]][] = [["LR", p.lr], ["RL", p.rl], ["LL", p.ll], ["RR", p.rr]];
    ampSeries.forEach(([pol, arr]) => {
      series.push({
        type: "line", name: pol, xAxisIndex: xA, yAxisIndex: yA, showSymbol: false, symbol: "none", silent: true,
        lineStyle: { color: COLORS[pol], width: 1 }, itemStyle: { color: COLORS[pol] },
        data: ampChannels.map((c, i) => [c, arr[i]]),
      });
    });

    graphics.push({
      type: "text", x: left + width / 2, y: ROW_AMP_TOP[p.row] + 6, silent: true,
      style: { text: p.label, fill: "#000", fontFamily: FONT, fontSize: 7.5, fontWeight: "bold", textAlign: "center", textVerticalAlign: "middle" },
    });
  });

  // header
  graphics.push({
    type: "text", x: 312, y: 13, scaleX: 1.3, silent: true,
    style: { text: titleText, fill: "#000", fontFamily: FONT, fontSize: 12, textAlign: "center", textVerticalAlign: "middle" },
  });
  const hy = [17.5, 27.8, 38, 48];
  headerLeft.forEach((t, i) => graphics.push({
    type: "text", x: 40, y: hy[i], silent: true,
    style: { text: t, fill: "#000", fontFamily: FONT, fontSize: 8.3, textAlign: "left", textVerticalAlign: "middle" },
  }));
  headerRight.forEach((t, i) => graphics.push({
    type: "text", x: 592, y: hy[i], silent: true,
    style: { text: t, fill: "#000", fontFamily: FONT, fontSize: 8, textAlign: "right", textVerticalAlign: "middle" },
  }));

  // legend (bottom)
  const legX = [70, 100, 133, 170];
  polNames.forEach((pol, i) => {
    graphics.push({ type: "line", silent: true, shape: { x1: legX[i], y1: 375.5, x2: legX[i] + 17, y2: 375.5 }, style: { stroke: COLORS[pol], lineWidth: 1 } });
    graphics.push({
      type: "text", x: legX[i] + 19, y: 375, silent: true,
      style: { text: pol, fill: "#000", fontFamily: FONT, fontSize: 5.5, textAlign: "left", textVerticalAlign: "middle" },
    });
  });

  return {
    animation: false,
    backgroundColor: "#fff",
    grid: grids,
    xAxis: xAxes,
    yAxis: yAxes,
    series,
    graphic: graphics,
  };
}

export default function App() {
  const ref = useRef<HTMLDivElement>(null);
  useEffect(() => {
    if (!ref.current) return;
    const chart = echarts.init(ref.current, null, { renderer: "svg" });
    chart.setOption(buildOption() as any);
    return () => chart.dispose();
  }, []);
  return (
    <div
      ref={ref}
      style={{ position: "fixed", left: 0, top: 0, width: 593, height: 378, background: "#fff" }}
    />
  );
}
